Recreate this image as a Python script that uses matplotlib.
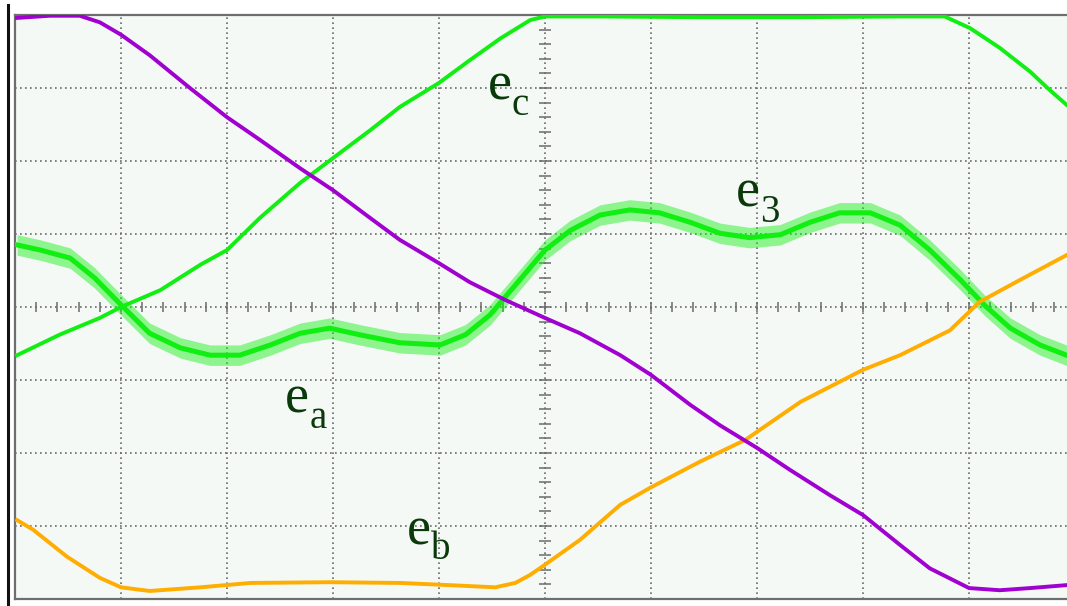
import numpy as np
import matplotlib
matplotlib.use("Agg")
import matplotlib.pyplot as plt
from matplotlib.lines import Line2D

# scope screen in divisions: x 0..10, y -4..4
ea_t = [0.02, 0.33, 0.61, 0.80, 1.00, 1.27, 1.65, 2.00, 2.31, 2.69, 3.00, 3.35, 3.63, 4.00,
        4.29, 4.62, 5.00, 5.33, 5.71, 6.00, 6.37, 6.65, 7.00, 7.31, 7.69, 8.00, 8.35, 8.63,
        9.00, 9.29, 9.58, 9.92]
ea_v = [3.96, 3.99, 3.99, 3.90, 3.73, 3.45, 3.00, 2.60, 2.29, 1.90, 1.60, 1.22, 0.92, 0.60,
        0.34, 0.10, -0.15, -0.36, -0.66, -0.93, -1.34, -1.62, -1.93, -2.23, -2.58, -2.85,
        -3.26, -3.58, -3.85, -3.88, -3.85, -3.81]

ec_t = [0.02, 0.42, 0.80, 1.00, 1.37, 1.75, 2.00, 2.31, 2.69, 3.00, 3.35, 3.63, 4.00, 4.29,
        4.58, 4.86, 5.00, 5.52, 6.46, 7.41, 8.35, 8.77, 9.01, 9.29, 9.58, 9.74, 9.92]
ec_v = [-0.66, -0.38, -0.15, 0.00, 0.23, 0.58, 0.78, 1.22, 1.70, 2.04, 2.42, 2.74, 3.07, 3.38,
        3.68, 3.93, 3.98, 3.98, 3.97, 3.97, 3.98, 3.98, 3.82, 3.55, 3.22, 3.00, 2.77]

eb_t = [0.02, 0.17, 0.49, 0.80, 1.00, 1.27, 1.75, 2.22, 2.97, 3.63, 4.10, 4.53, 4.72, 4.86,
        5.00, 5.33, 5.71, 6.00, 6.46, 6.89, 7.41, 8.00, 8.35, 8.82, 9.10, 9.48, 9.92]
eb_v = [-2.92, -3.05, -3.42, -3.71, -3.84, -3.89, -3.84, -3.78, -3.77, -3.78, -3.81, -3.84,
        -3.78, -3.67, -3.53, -3.19, -2.71, -2.47, -2.12, -1.82, -1.30, -0.86, -0.66, -0.32,
        0.07, 0.37, 0.71]

e3_t = [0.02, 0.24, 0.52, 0.75, 1.00, 1.27, 1.56, 1.84, 2.12, 2.41, 2.69, 2.97, 3.25, 3.63,
        4.01, 4.25, 4.48, 4.72, 5.00, 5.24, 5.52, 5.80, 6.08, 6.37, 6.65, 6.93, 7.22, 7.50,
        7.78, 8.07, 8.35, 8.63, 8.92, 9.15, 9.39, 9.67, 9.92]
e3_v = [0.85, 0.78, 0.67, 0.40, 0.03, -0.36, -0.56, -0.66, -0.66, -0.52, -0.36, -0.29, -0.38,
        -0.49, -0.52, -0.38, -0.11, 0.30, 0.78, 1.05, 1.26, 1.33, 1.29, 1.16, 1.01, 0.95,
        0.99, 1.16, 1.29, 1.29, 1.12, 0.78, 0.37, 0.02, -0.29, -0.52, -0.66]

labels = ["c", "a", "b", "3"]
label_x = [4.46, 2.55, 3.70, 6.80]
label_y = [2.84, -1.45, -3.25, 1.37]

green = "#11ee11"
purple = "#a000d0"
orange = "#ffad00"
text_col = "#0a3a0a"

fig = plt.figure(figsize=(10.67, 6.06), dpi=100)
ax = fig.add_axes([15 / 1067, 7 / 606, 1060 / 1067, 584 / 606])
ax.set_facecolor("#f4f9f6")
ax.set_xlim(0, 10)
ax.set_ylim(-4, 4)

# graticule
for gx in range(1, 10):
    ax.axvline(gx, color="#6a6a6a", lw=1.2, ls=(0, (1, 2)), zorder=1)
for gy in range(-3, 4):
    ax.axhline(gy, color="#6a6a6a", lw=1.2, ls=(0, (1, 2)), zorder=1)
minor_x = np.arange(0.2, 10, 0.2)
minor_y = np.arange(-3.8, 4, 0.2)
ax.plot(minor_x, np.zeros_like(minor_x), ls="none", marker="|", ms=7, mew=1.1,
        color="#6a6a6a", zorder=1)
ax.plot(np.full_like(minor_y, 5.0), minor_y, ls="none", marker="_", ms=8, mew=1.1,
        color="#6a6a6a", zorder=1)

# traces
e3_t = np.array(e3_t)
e3_v = np.array(e3_v)
ax.fill_between(e3_t, e3_v - 0.14, e3_v + 0.14, color=green, alpha=0.45, lw=0, zorder=2)
ax.plot(e3_t, e3_v, color=green, lw=3.6, zorder=3)
ax.plot(ec_t, ec_v, color=green, lw=2.8, zorder=4)
ax.plot(eb_t, eb_v, color=orange, lw=2.8, zorder=4)
ax.plot(ea_t, ea_v, color=purple, lw=2.8, zorder=5)

for sub, lx, ly in zip(labels, label_x, label_y):
    ax.text(lx, ly, "e", fontsize=39, family="Liberation Serif", color=text_col,
            va="baseline", ha="left", zorder=6)
    ax.annotate(sub, xy=(lx, ly), xytext=(24, -15), textcoords="offset pixels",
                fontsize=28, family="Liberation Serif", color=text_col,
                va="baseline", ha="left", zorder=6)

ax.set_xticks([])
ax.set_yticks([])
for side in ["top", "left", "bottom"]:
    ax.spines[side].set_color("#6e6e6e")
    ax.spines[side].set_linewidth(1.6)
ax.spines["right"].set_visible(False)

# dark bezel line on the far left
fig.add_artist(Line2D([8 / 1067, 8 / 1067], [0, 1 - 5 / 606], color="#111111", lw=2.2))

fig.savefig("out.png", dpi=100)
